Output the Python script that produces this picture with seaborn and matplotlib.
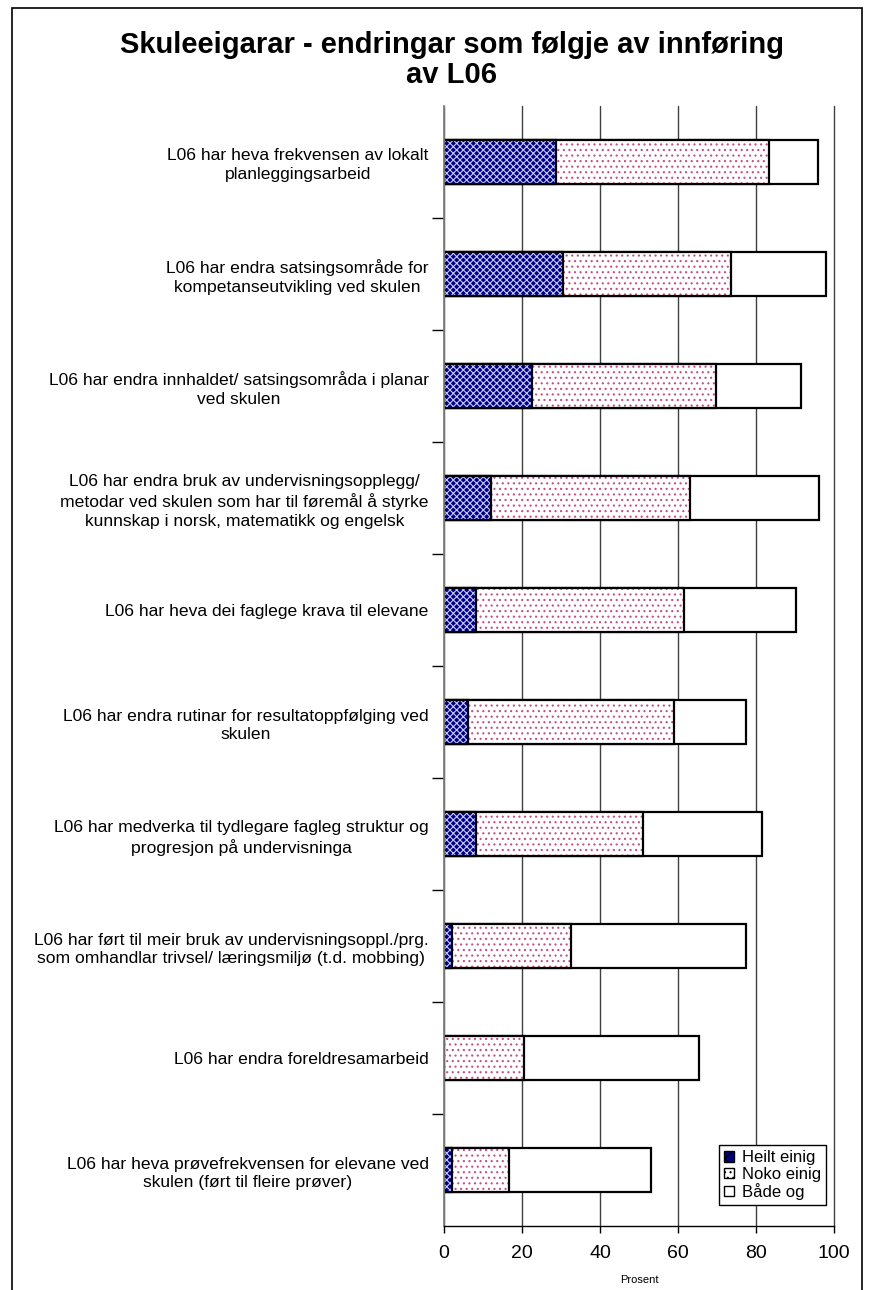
import matplotlib
matplotlib.use("Agg")
import matplotlib.pyplot as plt
from matplotlib.patches import Patch, Rectangle
import pandas as pd
import seaborn as sns

# statements, top to bottom
statements = [
    "L06 har heva frekvensen av lokalt\nplanleggingsarbeid",
    "L06 har endra satsingsområde for\nkompetanseutvikling ved skulen",
    "L06 har endra innhaldet/ satsingsområda i planar\nved skulen",
    "L06 har endra bruk av undervisningsopplegg/\nmetodar ved skulen som har til føremål å styrke\nkunnskap i norsk, matematikk og engelsk",
    "L06 har heva dei faglege krava til elevane",
    "L06 har endra rutinar for resultatoppfølging ved\nskulen",
    "L06 har medverka til tydlegare fagleg struktur og\nprogresjon på undervisninga",
    "L06 har ført til meir bruk av undervisningsoppl./prg.\nsom omhandlar trivsel/ læringsmiljø (t.d. mobbing)",
    "L06 har endra foreldresamarbeid",
    "L06 har heva prøvefrekvensen for elevane ved\nskulen (ført til fleire prøver)",
]
heilt_einig = [28.6, 30.6, 22.5, 12.0, 8.1, 6.2, 8.1, 2.0, 0.0, 2.1]
noko_einig = [54.8, 43.0, 47.2, 51.0, 53.4, 52.8, 42.9, 30.6, 20.6, 14.6]
baade_og = [12.6, 24.3, 21.8, 33.1, 28.7, 18.4, 30.6, 44.9, 44.9, 36.4]
series_names = ["Heilt einig", "Noko einig", "Både og"]
x_ticks = [0, 20, 40, 60, 80, 100]

NAVY = "#000080"
PINK = "#c0508a"

sns.set_theme(style="white")
plt.rcParams["font.family"] = ["Liberation Sans", "DejaVu Sans"]
plt.rcParams["text.color"] = "black"
plt.rcParams["axes.labelcolor"] = "black"
plt.rcParams["xtick.color"] = "black"
plt.rcParams["ytick.color"] = "black"
plt.rcParams["hatch.linewidth"] = 0.8

df = pd.DataFrame({"label": statements, "heilt": heilt_einig,
                   "noko": noko_einig, "baade": baade_og})
df["cum_noko"] = df["heilt"] + df["noko"]
df["cum_total"] = df["cum_noko"] + df["baade"]

fig = plt.figure(figsize=(8.74, 12.9), dpi=100)
ax = fig.add_axes([444 / 874, 1 - 1226 / 1290, 390 / 874, 1120 / 1290])
ax.set_axisbelow(True)
ax.xaxis.grid(True, color="#404040", linewidth=1)


def outline(container):
    for p in container:
        p.set_facecolor("none")
        p.set_edgecolor("black")
        p.set_linewidth(1.6)


def hatch_fill(container, face, hatch, hcolor):
    for p in container:
        p.set_facecolor(face)
        p.set_hatch(hatch)
        p.set_edgecolor(hcolor)
        p.set_linewidth(0)


# stacked bars: draw cumulative totals, widest first
sns.barplot(data=df, x="cum_total", y="label", color="white", orient="h",
            width=0.4, saturation=1, errorbar=None, ax=ax)
outline(ax.containers[-1])
for p in ax.containers[-1]:
    p.set_facecolor("white")

sns.barplot(data=df, x="cum_noko", y="label", color="white", orient="h",
            width=0.4, saturation=1, errorbar=None, ax=ax)
hatch_fill(ax.containers[-1], "white", "...", PINK)
sns.barplot(data=df, x="cum_noko", y="label", color="white", orient="h",
            width=0.4, saturation=1, errorbar=None, ax=ax)
outline(ax.containers[-1])

sns.barplot(data=df, x="heilt", y="label", color="white", orient="h",
            width=0.4, saturation=1, errorbar=None, ax=ax)
hatch_fill(ax.containers[-1], NAVY, "xxxxx", "#c8c8ff")
sns.barplot(data=df, x="heilt", y="label", color="white", orient="h",
            width=0.4, saturation=1, errorbar=None, ax=ax)
outline(ax.containers[-1])

ax.set_xlim(0, 100)
ax.set_xticks(x_ticks)
for gl in ax.xaxis.get_gridlines():
    gl.set_clip_on(False)
ax.set_ylim(len(statements) - 0.5, -0.5)
ax.set_yticks([i + 0.5 for i in range(len(statements) - 1)], minor=True)
ax.set_ylabel("")
ax.set_xlabel("Prosent", fontsize=8, labelpad=9)

ax.tick_params(axis="y", which="major", length=0, pad=11, labelsize=12.6)
ax.tick_params(axis="y", which="minor", left=True, length=9, width=1,
               color="black", direction="out")
ax.tick_params(axis="x", bottom=True, length=5, width=1, color="black",
               direction="out", labelsize=14, pad=9)
for t in ax.get_yticklabels():
    t.set_multialignment("center")
    t.set_linespacing(1.3)

for s in ["top", "right"]:
    ax.spines[s].set_visible(False)
ax.spines["left"].set_color("#808080")
ax.spines["bottom"].set_color("black")
ax.spines["bottom"].set_linewidth(1)

handles = [
    Patch(facecolor=NAVY, edgecolor="black", hatch="xx", label=series_names[0]),
    Patch(facecolor="white", edgecolor="black", hatch="...", label=series_names[1]),
    Patch(facecolor="white", edgecolor="black", label=series_names[2]),
]
leg = ax.legend(handles=handles, loc="lower right",
                bbox_to_anchor=((826 - 444) / 390, (1226 - 1205) / 1120),
                fontsize=12, frameon=True, fancybox=False, framealpha=1,
                edgecolor="black", handlelength=0.6, handleheight=0.6,
                handletextpad=0.5, labelspacing=0.08, borderpad=0.3,
                borderaxespad=0)
leg.get_frame().set_linewidth(1)

fig.text(452 / 874, 1 - 60 / 1290,
         "Skuleeigarar - endringar som følgje av innføring\nav L06",
         ha="center", va="center", fontsize=21, fontweight="bold",
         linespacing=1.08)

fig.add_artist(Rectangle((12 / 874, -0.05), 850 / 874, 1.05 - 8 / 1290,
                         transform=fig.transFigure, fill=False,
                         edgecolor="black", linewidth=1.2))

fig.savefig("out.png", dpi=100)
